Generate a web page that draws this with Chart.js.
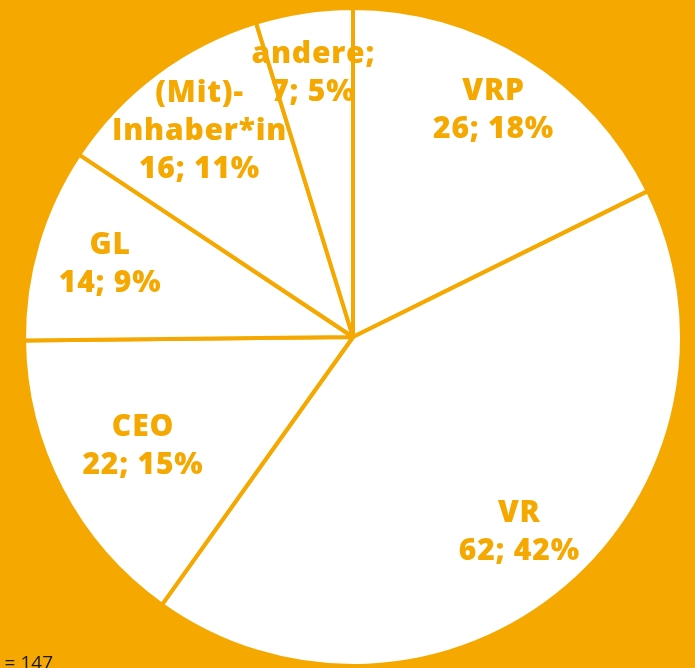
<!DOCTYPE html>
<html lang="de">
<head>
<meta charset="utf-8">
<title>Funktion – Verteilung</title>
<script src="https://cdn.jsdelivr.net/npm/chart.js@4.4.1/dist/chart.umd.min.js"></script>
<style>
  html, body { margin: 0; padding: 0; background: #f5a800; overflow: hidden; }
  #wrap { position: relative; width: 695px; height: 668px; }
  #pie { display: block; }
  #note {
    position: absolute; right: calc(695px - 53px); top: 649px;
    font: 19px "Open Sans", Arial, sans-serif; color: #1a1a1a; white-space: nowrap;
  }
</style>
</head>
<body>
<div id="wrap">
  <canvas id="pie" width="695" height="668"></canvas>
  <div id="note">n = 147</div>
</div>
<script>
  // categories (clockwise from 12 o'clock)
  const labels = ["VRP", "VR", "CEO", "GL", "(Mit)-Inhaber*in", "andere"];
  // label lines as printed in the picture
  const labelLines = [["VRP"], ["VR"], ["CEO"], ["GL"], ["(Mit)-", "Inhaber*in"], ["andere;"]];
  const counts = [26, 62, 22, 14, 16, 7];
  const percents = [18, 42, 15, 9, 11, 5];

  const ORANGE = "#f5a800";

  // distance of each label from the centre, as a share of the radius
  const labelRadius = [0.81, 0.78, 0.72, 0.77, 0.78, 0.81];

  const sliceLabels = {
    id: "sliceLabels",
    afterDatasetsDraw(chart) {
      const { ctx } = chart;
      const arcs = chart.getDatasetMeta(0).data;
      ctx.save();
      ctx.fillStyle = ORANGE;
      ctx.font = "800 30px 'Open Sans', sans-serif";
      ctx.letterSpacing = "0.8px";
      ctx.textAlign = "center";
      ctx.textBaseline = "middle";
      const lineH = 38;
      arcs.forEach((arc, i) => {
        const { x, y, startAngle, endAngle, outerRadius } = arc.getProps(["x", "y", "startAngle", "endAngle", "outerRadius"], true);
        const mid = (startAngle + endAngle) / 2;
        const r = outerRadius * labelRadius[i];
        const cx = x + Math.cos(mid) * r;
        const cy = y + Math.sin(mid) * r;
        const lines = [...labelLines[i], `${counts[i]}; ${percents[i]}%`];
        const top = cy - ((lines.length - 1) * lineH) / 2;
        lines.forEach((t, k) => ctx.fillText(t, cx, top + k * lineH));
      });
      ctx.restore();
    },
  };

  new Chart(document.getElementById("pie").getContext("2d"), {
    type: "pie",
    data: {
      labels,
      datasets: [{
        data: counts,
        backgroundColor: "#ffffff",
        borderColor: ORANGE,
        borderWidth: 4,
        hoverOffset: 0,
      }],
    },
    options: {
      responsive: false,
      animation: false,
      radius: 329,
      layout: { padding: { top: 6, bottom: 0, left: 11, right: 0 } },
      plugins: {
        legend: { display: false },
        tooltip: { enabled: false },
      },
    },
    plugins: [sliceLabels],
  });
</script>
</body>
</html>
